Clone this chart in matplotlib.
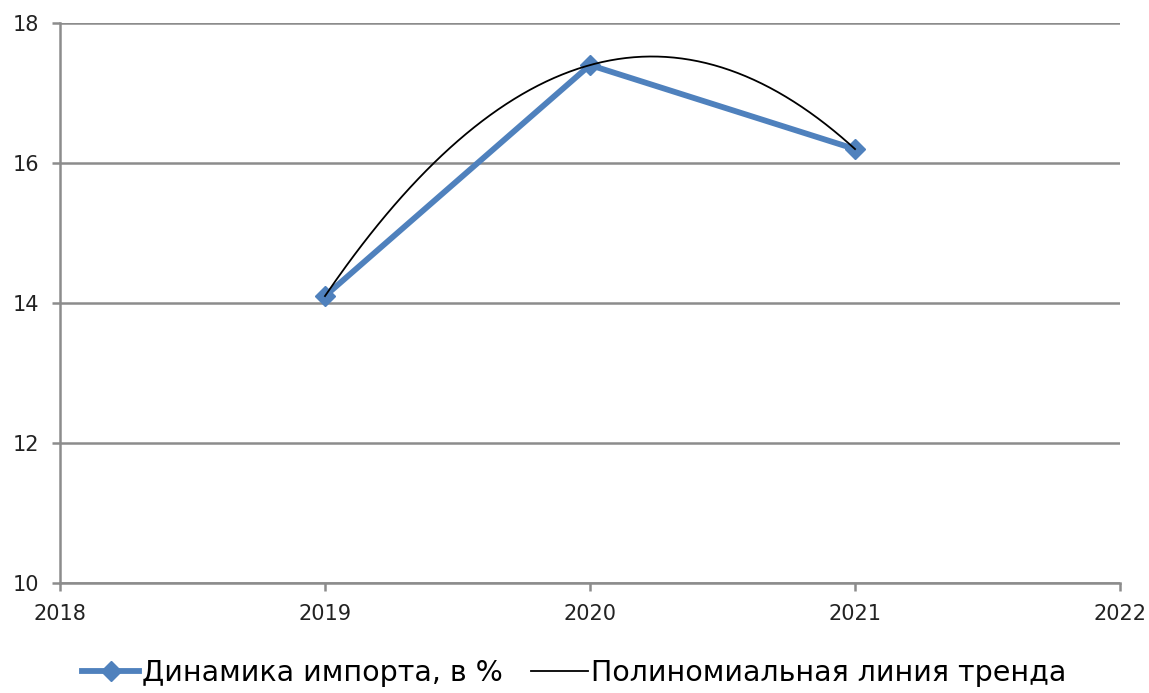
import numpy as np
import matplotlib.pyplot as plt

years = [2019, 2020, 2021]
import_share = [14.1, 17.4, 16.2]
x_ticks = [2018, 2019, 2020, 2021, 2022]
y_ticks = [10, 12, 14, 16, 18]

# polynomial trend (degree 2) over the data points
coef = np.polyfit(years, import_share, 2)
trend_x = np.linspace(years[0], years[-1], 200)
trend_y = np.polyval(coef, trend_x)

fig = plt.figure(figsize=(11.49, 6.93), dpi=100)
ax = fig.add_axes([0.0522, 0.1587, 0.9226, 0.808])

grid_color = '#8c8c8c'
ax.plot(years, import_share, color='#4f81bd', lw=4.2, marker='D', ms=10,
        label='Динамика импорта, в %', zorder=3)
ax.plot(trend_x, trend_y, color='black', lw=1.3,
        label='Полиномиальная линия тренда', zorder=4)

ax.set_xlim(2018, 2022)
ax.set_ylim(10, 18)
ax.set_xticks(x_ticks)
ax.set_yticks(y_ticks)
ax.tick_params(labelsize=15, labelcolor='#222222', color=grid_color,
               width=1.8, length=6, pad=9)
ax.yaxis.grid(True, color=grid_color, lw=1.8)
for side in ['top', 'right']:
    ax.spines[side].set_visible(False)
for side in ['left', 'bottom']:
    ax.spines[side].set_color(grid_color)
    ax.spines[side].set_linewidth(1.8)

fig.legend(loc='lower center', bbox_to_anchor=(0.5, -0.028), ncol=2,
           frameon=False, fontsize=20.5, handlelength=2.0, handletextpad=0.1,
           columnspacing=1.0)

fig.savefig('out.png')
